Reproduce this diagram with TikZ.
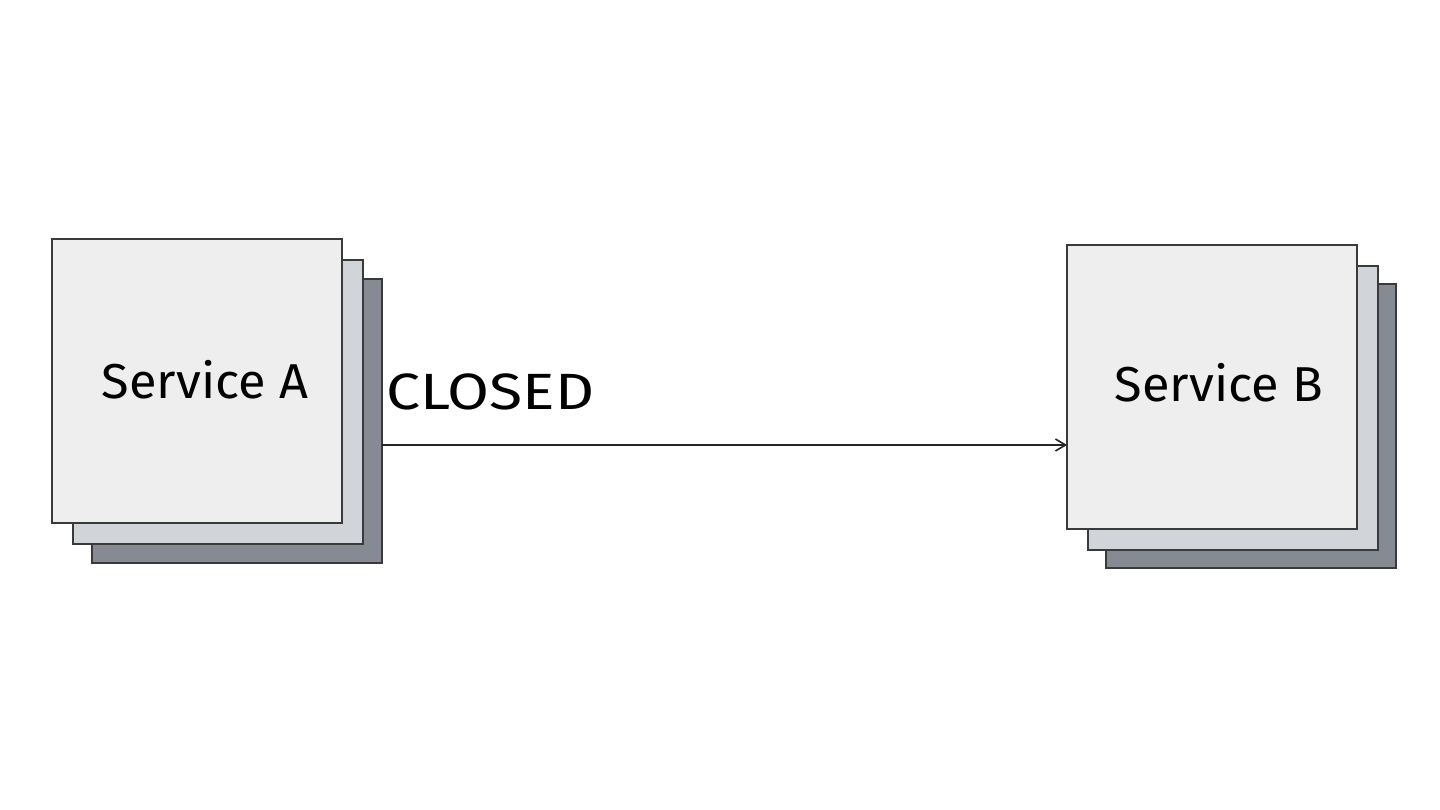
\documentclass[tikz,border=0pt]{standalone}
\usepackage{fontspec}
\setmainfont{Fira Sans}
\usetikzlibrary{arrows.meta}
\definecolor{frontc}{HTML}{EEEEEE}
\definecolor{midc}{HTML}{D1D5DA}
\definecolor{backc}{HTML}{868B93}
\definecolor{edgec}{HTML}{3A3A3A}
\begin{document}
\begin{tikzpicture}[x=1pt,y=-1pt,
  card/.style={draw=edgec,line width=1.2pt,inner sep=0pt,outer sep=0pt,minimum width=290pt,minimum height=284pt,anchor=north west},
  frontcard/.style={card,fill=frontc},
  midcard/.style={card,fill=midc},
  backcard/.style={card,fill=backc},
  svc/.style={font=\fontsize{49}{55}\selectfont,inner sep=0pt,xscale=1.03},
  conn/.style={draw=black!85,line width=1.6pt,-{Straight Barb[length=10pt,width=12pt,line width=1.6pt]}},
  lbl/.style={font=\fontsize{51}{57}\selectfont,anchor=base west,inner sep=0pt,xscale=1.19}]
\useasboundingbox[fill=white] (0,0) rectangle (1440,810);
% Service A stack
\node[backcard] (a3) at (92,279) {};
\node[midcard] (a2) at (73,260) {};
\node[frontcard] (a1) at (52,239) {};
\node[svc] (aT) at (205,380) {Service A};
% Service B stack
\node[backcard] (b3) at (1106,284) {};
\node[midcard] (b2) at (1088,266) {};
\node[frontcard] (b1) at (1067,245) {};
\node[svc] (bT) at (1219,383) {Service B};
% connector
\coordinate (s) at (a3.east |- 0,445);
\coordinate (e) at (b1.west |- 0,445);
\draw[conn] (s) -- (e);
\node[lbl] (cl) at (386,409) {CLOSED};
\end{tikzpicture}
\end{document}
